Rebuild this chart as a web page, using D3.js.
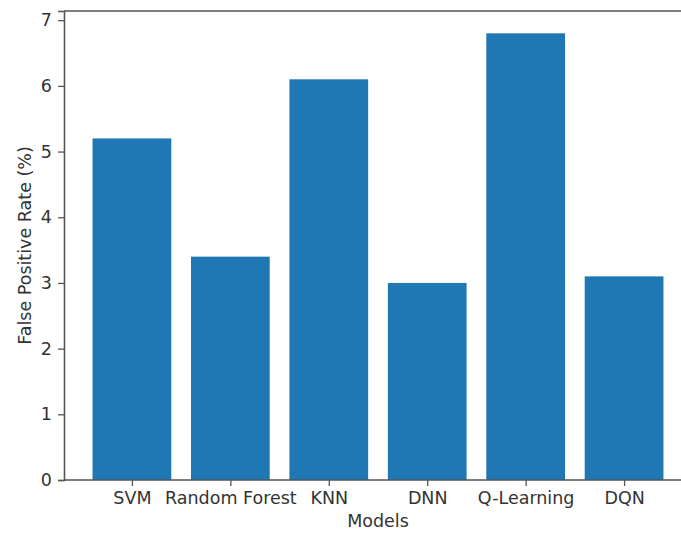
<!DOCTYPE html>
<html>
<head>
<meta charset="utf-8">
<script src="https://cdn.jsdelivr.net/npm/d3@7"></script>
<style>
  body { margin: 0; background: #fff; }
  svg { display: block; font-family: "DejaVu Sans", sans-serif; }
</style>
</head>
<body>
<div id="container"></div>
<script>
// chart data
let models = ["SVM", "Random Forest", "KNN", "DNN", "Q-Learning", "DQN"];
let fpr = [5.2, 3.4, 6.1, 3.0, 6.8, 3.1];
let yTicks = [0, 1, 2, 3, 4, 5, 6, 7];

let w = 681;
let h = 533;
let padLeft = 64, padTop = 11, axisY = 480;
let plotW = 628; // runs past the right edge, the picture is cropped there
let fontSize = 17.5;

let viz = d3.select('#container')
    .append('svg')
    .attr('width', w)
    .attr('height', h);

// matplotlib-like x: index positions with 5% margins
let n = models.length;
let span = (n - 1) + 0.8;
let xScale = d3.scaleLinear()
    .domain([-0.4 - span * 0.05, n - 1 + 0.4 + span * 0.05])
    .range([padLeft, padLeft + plotW]);

let yScale = d3.scaleLinear()
    .domain([0, d3.max(fpr) * 1.05])
    .range([axisY, padTop]);

// bars
viz.append('g').selectAll('rect')
    .data(fpr)
    .enter()
    .append('rect')
    .attr('x', (d, i) => xScale(i - 0.4))
    .attr('width', (d, i) => xScale(i + 0.4) - xScale(i - 0.4))
    .attr('y', d => yScale(d))
    .attr('height', d => axisY - yScale(d))
    .attr('fill', '#1f77b4');

// frame (top + left + bottom; right side is cropped off)
viz.append('line')
    .attr('x1', padLeft).attr('x2', w)
    .attr('y1', padTop).attr('y2', padTop)
    .attr('stroke', '#555').attr('stroke-width', 1.6);

// y axis
let yAxis = d3.axisLeft(yScale)
    .tickValues(yTicks)
    .tickFormat(d3.format('d'))
    .tickSize(6)
    .tickPadding(6);
let yAxisGroup = viz.append('g')
    .attr('transform', `translate(${padLeft},0)`)
    .call(yAxis);

// x axis
let xAxis = d3.axisBottom(xScale)
    .tickValues(d3.range(n))
    .tickFormat(i => models[i])
    .tickSize(6)
    .tickPadding(6);
let xAxisGroup = viz.append('g')
    .attr('transform', `translate(0,${axisY})`)
    .call(xAxis);
xAxisGroup.select('.domain').attr('d', `M${padLeft},0H${w}`);

viz.selectAll('.domain').attr('stroke', '#555').attr('stroke-width', 1.6);
viz.selectAll('.tick line').attr('stroke', '#555').attr('stroke-width', 1.3);
viz.selectAll('.tick text')
    .attr('font-size', fontSize)
    .attr('font-family', '"DejaVu Sans", sans-serif')
    .attr('fill', '#333');

// axis labels
viz.append('text')
    .attr('x', xScale((n - 1) / 2))
    .attr('y', 527)
    .attr('text-anchor', 'middle')
    .attr('font-size', fontSize)
    .attr('fill', '#333')
    .text('Models');

viz.append('text')
    .attr('transform', `translate(31,${(padTop + axisY) / 2}) rotate(-90)`)
    .attr('text-anchor', 'middle')
    .attr('font-size', fontSize)
    .attr('fill', '#333')
    .text('False Positive Rate (%)');
</script>
</body>
</html>
